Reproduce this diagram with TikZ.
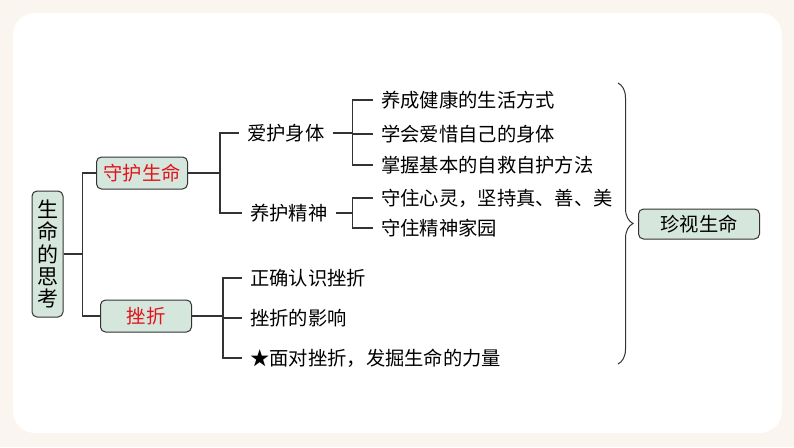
\documentclass[tikz,border=0pt]{standalone}
\usepackage{fontspec}
\setmainfont{Noto Sans CJK SC}
\usepackage{tikz}
\usetikzlibrary{positioning, calc, decorations.pathreplacing}

\definecolor{bgbeige}{HTML}{FBF5EF}
\definecolor{boxgreen}{HTML}{D5E6DD}
\definecolor{linegray}{HTML}{333333}
\definecolor{keyred}{HTML}{E3141B}

\begin{document}
\begin{tikzpicture}[
  x=1pt, y=-1pt,
  every node/.style={font=\fontsize{19.3pt}{22pt}\selectfont, text=black},
  topicbox/.style={rectangle, draw=linegray, fill=boxgreen, line width=1pt, rounded corners=5pt, minimum width=91pt, minimum height=32pt, inner sep=0pt},
  leaf/.style={anchor=west, inner xsep=8pt, inner ysep=0pt},
  link/.style={draw=linegray, line width=1.3pt},
]
  % Fond
  \fill[bgbeige] (0,0) rectangle (794,447);
  \fill[white, rounded corners=22pt] (13,13) rectangle (782,433);
  \useasboundingbox (0,0) rectangle (794,447);

  % Racine et branches principales
  \node[topicbox, minimum width=31pt, minimum height=126pt, align=center, font=\fontsize{21pt}{22.3pt}\selectfont] (root) at (47.5,254) {生\\命\\的\\思\\考};
  \node[topicbox, text=keyred] (protect) at (142,173) {守护生命};
  \node[topicbox, text=keyred] (setback) at (146,316) {挫折};
  \node[topicbox, minimum width=121pt, minimum height=30pt] (cherish) at (699,224) {珍视生命};

  % Sous-branches
  \node[leaf] (body) at (239,133) {爱护身体};
  \node[leaf] (spirit) at (242,213) {养护精神};

  % Feuilles
  \node[leaf] (b1) at (373,100) {养成健康的生活方式};
  \node[leaf] (b2) at (373,134) {学会爱惜自己的身体};
  \node[leaf] (b3) at (373,165) {掌握基本的自救自护方法};
  \node[leaf] (s1) at (373,198) {守住心灵，坚持真、善、美};
  \node[leaf] (s2) at (373,228) {守住精神家园};
  \node[leaf] (c1) at (242,278) {正确认识挫折};
  \node[leaf] (c2) at (242,318) {挫折的影响};
  \node[leaf] (c3) at (242,358) {★面对挫折，发掘生命的力量};

  % Liaisons
  \draw[link] (root.east) -- ++(19,0) coordinate (r1);
  \draw[link] (r1) |- (protect.west);
  \draw[link] (r1) |- (setback.west);

  \draw[link] (protect.east) -- ++(32,0) coordinate (p1);
  \draw[link] (p1) |- (body.west);
  \draw[link] (p1) |- (spirit.west);

  \draw[link] (body.east) -- ++(20,0) coordinate (bj);
  \draw[link] (bj) |- (b1.west);
  \draw[link] (bj) |- (b2.west);
  \draw[link] (bj) |- (b3.west);

  \draw[link] (spirit.east) -- (spirit.east -| bj) coordinate (sj);
  \draw[link] (sj) |- (s1.west);
  \draw[link] (sj) |- (s2.west);

  \draw[link] (setback.east) -- ++(31,0) coordinate (cj);
  \draw[link] (cj) |- (c1.west);
  \draw[link] (cj) |- (c2.west);
  \draw[link] (cj) |- (c3.west);

  % Accolade
  \coordinate (bt) at (618,83);
  \coordinate (bb) at (618,364);
  \draw[linegray, line width=1pt, decorate, decoration={brace, amplitude=15pt}] (bt) -- (bb);
\end{tikzpicture}
\end{document}
